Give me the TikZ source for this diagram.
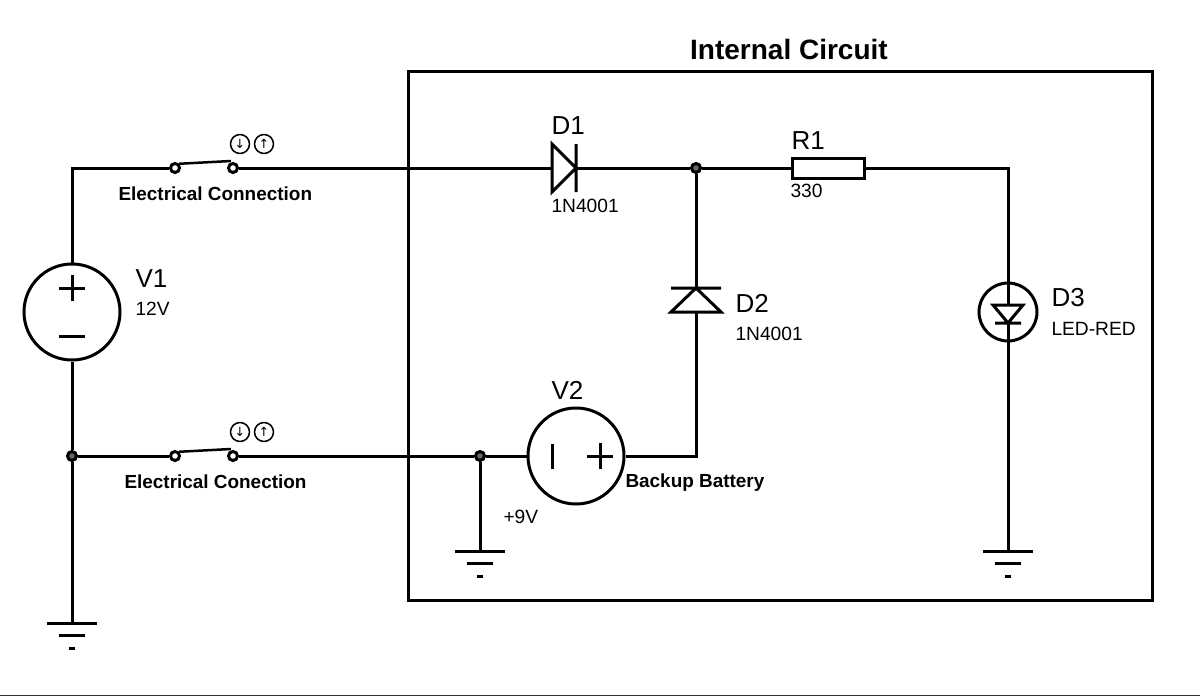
\documentclass[tikz,border=0pt]{standalone}
\usepackage{fontspec}
\setmainfont{Liberation Sans}
\newfontfamily\symbfont{DejaVu Sans}
\usetikzlibrary{arrows}

\newcommand{\px}{0.75pt}

\begin{document}
\begin{tikzpicture}[x=0.75pt,y=-0.75pt,line width=3*\px,
    source/.style={circle,draw,inner sep=0pt,minimum size=96*\px},
    pin/.style={circle,draw,fill=white,line width=3*\px,inner sep=0pt,minimum size=9*\px},
    junction/.style={circle,draw,fill=black!60,line width=3*\px,inner sep=0pt,minimum size=9*\px},
    icon/.style={circle,draw,line width=1.5*\px,inner sep=0pt,minimum size=19*\px,font=\symbfont\fontsize{9.5pt}{9.5pt}\selectfont},
    part/.style={inner sep=0pt,outer sep=0pt},
    ref/.style={anchor=west,inner sep=0pt,font=\fontsize{19.5pt}{19.5pt}\selectfont},
    val/.style={anchor=west,inner sep=0pt,font=\fontsize{14.4pt}{14.4pt}\selectfont},
    note/.style={anchor=west,inner sep=0pt,font=\bfseries\fontsize{14.2pt}{14.2pt}\selectfont}]

  \useasboundingbox (0,0) rectangle (1200,696);
  \fill[black!80] (0,694.5) rectangle (1200,696);

  % the box of the internal circuit
  \node[part,draw,minimum width=744*\px,minimum height=529*\px] (box) at (780,335.5) {};
  \node[part,font=\bfseries\fontsize{21pt}{21pt}\selectfont] (title) at (789,49) {Internal Circuit};

  % sources
  \node[source] (V1) at (72,312) {};
  \node[source] (V2) at (576,456) {};
  \draw (59,288) -- (85,288) (72,275) -- (72,301) (59,336) -- (85,336);
  \draw (552,444) -- (552,469) (587,456) -- (613,456) (600,443) -- (600,469);

  % junctions
  \node[junction] (j1) at (72,456) {};
  \node[junction] (j2) at (480,456) {};
  \node[junction] (j3) at (696,168) {};
  \coordinate (c1) at (72,168);
  \coordinate (c2) at (696,456);
  \coordinate (c3) at (1008,168);

  % switches
  \node[pin] (s1a) at (175,168) {};
  \node[pin] (s1b) at (233,168) {};
  \node[pin] (s2a) at (175,456) {};
  \node[pin] (s2b) at (233,456) {};
  \draw[line width=2.5*\px] (s1a.north east) -- (231,161);
  \draw[line width=2.5*\px] (s2a.north east) -- (231,449);
  \node[icon] (i1) at (240,144) {↓};
  \node[icon] (i2) at (264,144) {↑};
  \node[icon] (i3) at (240,432) {↓};
  \node[icon] (i4) at (264,432) {↑};

  % diodes, the led and the resistor
  \node[part,minimum width=24*\px,minimum height=48*\px] (D1) at (564,168) {};
  \draw (D1.north west) -- (D1.east) -- (D1.south west) -- cycle (D1.north east) -- (D1.south east);
  \node[part,minimum width=50*\px,minimum height=24*\px] (D2) at (696,300) {};
  \draw (D2.south west) -- (D2.north) -- (D2.south east) -- cycle (D2.north west) -- (D2.north east);
  \node[source,minimum size=58*\px] (D3c) at (1008,312) {};
  \node[part,minimum width=30*\px,minimum height=18*\px] (D3) at (1008,314) {};
  \draw (D3.north west) -- (D3.south) -- (D3.north east) -- cycle (995,323) -- (1021,323);
  \node[part,draw,minimum width=72*\px,minimum height=20*\px] (R1) at (828,168) {};

  % wires
  \draw (V1) -- (c1) -- (s1a);
  \draw (s1b) -- (D1.west);
  \draw (D1.east) -- (j3) -- (R1);
  \draw (R1) -- (c3) -- (D3c);
  \draw (D3c.north) -- (D3.north);
  \draw (j3) -- (D2.north);
  \draw (D2.south) -- (c2) -- (V2);
  \draw (V1) -- (j1) -- (s2a);
  \draw (s2b) -- (j2) -- (V2);

  % grounds
  \foreach \name/\gx/\gy/\gtop in {g1/72/623/j1,g2/480/551/j2,g3/1008/551/D3.south} {
    \coordinate (\name) at (\gx,\gy);
    \draw (\gtop) -- (\name);
    \begin{scope}[shift={(\name)}]
      \draw (-25,0) -- (25,0) (-13,12) -- (13,12) (-3,25) -- (3,25);
    \end{scope}
  }

  % labels
  \node[ref] (lV1) at (134,279) {V1};
  \node[val] (vV1) at (134,309) {12V};
  \node[ref] (lV2) at (550,390) {V2};
  \node[val] (vV2) at (502,517) {+9V};
  \node[ref] (lD1) at (550,126) {D1};
  \node[val] (vD1) at (550,206) {1N4001};
  \node[ref] (lD2) at (734,303) {D2};
  \node[val] (vD2) at (734,334) {1N4001};
  \node[ref] (lD3) at (1050,298) {D3};
  \node[val] (vD3) at (1050,329) {LED-RED};
  \node[ref] (lR1) at (790,141) {R1};
  \node[val] (vR1) at (789,191) {330};
  \node[note] (n1) at (117,194) {Electrical Connection};
  \node[note] (n2) at (123,482) {Electrical Conection};
  \node[note] (n3) at (624,483) {Backup Battery};
\end{tikzpicture}
\end{document}
